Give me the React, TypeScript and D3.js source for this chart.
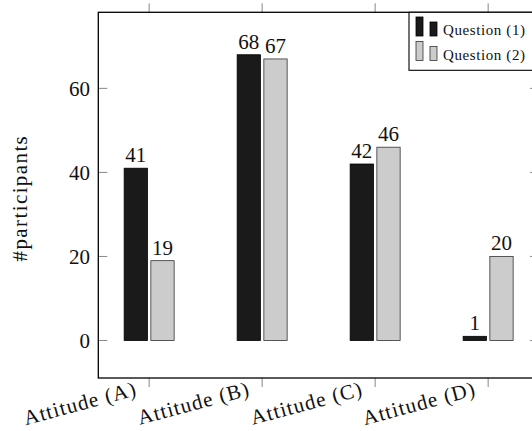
import { useEffect, useRef } from 'react';
import * as d3 from 'd3';

const categories = ['Attitude (A)', 'Attitude (B)', 'Attitude (C)', 'Attitude (D)'];
const question1 = [41, 68, 42, 1];
const question2 = [19, 67, 46, 20];
const yTicks = [0, 20, 40, 60];
const seriesNames = ['Question (1)', 'Question (2)'];

const FONT = '"Liberation Serif", "DejaVu Serif", serif';

const App = () => {
  const chartRef = useRef<SVGSVGElement>(null);

  useEffect(() => {
    if (!chartRef.current) return;
    const root = d3.select(chartRef.current);
    root.selectAll('*').remove();

    const width = 532;
    const height = 431;
    const frame = { left: 98.3, right: 539, top: 12.3, bottom: 378 };

    root.attr('width', width).attr('height', height);

    const x = d3.scalePoint<string>()
      .domain(categories)
      .range([frame.left, frame.right])
      .padding(0.45);

    const y = d3.scaleLinear()
      .domain([-8.92, 78.1])
      .range([frame.bottom, frame.top]);

    const barW = 23.3;
    const gap = 1.7;

    const series = [
      { name: seriesNames[0], values: question1, fill: '#1a1a1a', stroke: '#000', off: -gap - barW },
      { name: seriesNames[1], values: question2, fill: '#cccccc', stroke: '#333', off: gap },
    ];

    // bars + value labels
    series.forEach(s => {
      const g = root.append('g');
      g.selectAll('rect')
        .data(s.values)
        .enter()
        .append('rect')
        .attr('x', (d, i) => (x(categories[i]) || 0) + s.off)
        .attr('y', d => y(d))
        .attr('width', barW)
        .attr('height', d => y(0) - y(d))
        .attr('fill', s.fill)
        .attr('stroke', s.stroke)
        .attr('stroke-width', 0.8);

      g.selectAll('text')
        .data(s.values)
        .enter()
        .append('text')
        .attr('x', (d, i) => (x(categories[i]) || 0) + s.off + barW / 2)
        .attr('y', d => y(d) - 6)
        .attr('text-anchor', 'middle')
        .style('font-family', FONT)
        .style('font-size', '21px')
        .attr('fill', '#111')
        .text(d => d);
    });

    // y ticks (inside, both sides)
    const yt = root.append('g');
    yTicks.forEach(t => {
      yt.append('line')
        .attr('x1', frame.left).attr('x2', frame.left + 9)
        .attr('y1', y(t)).attr('y2', y(t))
        .attr('stroke', '#888').attr('stroke-width', 1);
      yt.append('line')
        .attr('x1', frame.right - 9).attr('x2', frame.right)
        .attr('y1', y(t)).attr('y2', y(t))
        .attr('stroke', '#888').attr('stroke-width', 1);
      yt.append('text')
        .attr('x', 90)
        .attr('y', y(t))
        .attr('dy', '0.34em')
        .attr('text-anchor', 'end')
        .style('font-family', FONT)
        .style('font-size', '21px')
        .attr('fill', '#111')
        .text(t);
    });

    // x ticks (outside, top and bottom)
    const xt = root.append('g');
    categories.forEach(c => {
      const cx = x(c) || 0;
      xt.append('line')
        .attr('x1', cx).attr('x2', cx)
        .attr('y1', frame.top - 9).attr('y2', frame.top)
        .attr('stroke', '#888').attr('stroke-width', 1);
      xt.append('line')
        .attr('x1', cx).attr('x2', cx)
        .attr('y1', frame.bottom).attr('y2', frame.bottom + 9)
        .attr('stroke', '#888').attr('stroke-width', 1);
      xt.append('text')
        .attr('transform', `translate(${cx - 11},${395}) rotate(-15)`)
        .attr('text-anchor', 'end')
        .style('font-family', FONT)
        .style('font-size', '21px')
        .style('letter-spacing', '1.1px')
        .attr('fill', '#111')
        .text(c);
    });

    // frame
    root.append('rect')
      .attr('x', frame.left)
      .attr('y', frame.top)
      .attr('width', frame.right - frame.left)
      .attr('height', frame.bottom - frame.top)
      .attr('fill', 'none')
      .attr('stroke', '#000')
      .attr('stroke-width', 1.3);

    // y axis label
    root.append('text')
      .attr('transform', `translate(27,${(frame.top + frame.bottom) / 2 + 3}) rotate(-90)`)
      .attr('text-anchor', 'middle')
      .style('font-family', FONT)
      .style('font-size', '21px')
      .style('letter-spacing', '1.4px')
      .attr('fill', '#111')
      .text('#participants');

    // legend
    const legend = root.append('g');
    legend.append('rect')
      .attr('x', 409)
      .attr('y', frame.top)
      .attr('width', 140)
      .attr('height', 58)
      .attr('fill', '#fff')
      .attr('stroke', '#000')
      .attr('stroke-width', 1.1);

    series.forEach((s, i) => {
      const base = 36 + i * 24.5;
      legend.append('rect')
        .attr('x', 416).attr('y', base - 19)
        .attr('width', 7).attr('height', 19)
        .attr('fill', s.fill).attr('stroke', s.stroke).attr('stroke-width', 0.8);
      legend.append('rect')
        .attr('x', 430).attr('y', base - 14)
        .attr('width', 7).attr('height', 14)
        .attr('fill', s.fill).attr('stroke', s.stroke).attr('stroke-width', 0.8);
      legend.append('text')
        .attr('x', 443)
        .attr('y', base - 1)
        .style('font-family', FONT)
        .style('font-size', '15px')
        .style('letter-spacing', '0.6px')
        .attr('fill', '#111')
        .text(s.name);
    });
  }, []);

  return (
    <svg
      ref={chartRef}
      style={{ position: 'absolute', left: 0, top: 0, display: 'block', background: '#fff' }}
    />
  );
};

export default App;
